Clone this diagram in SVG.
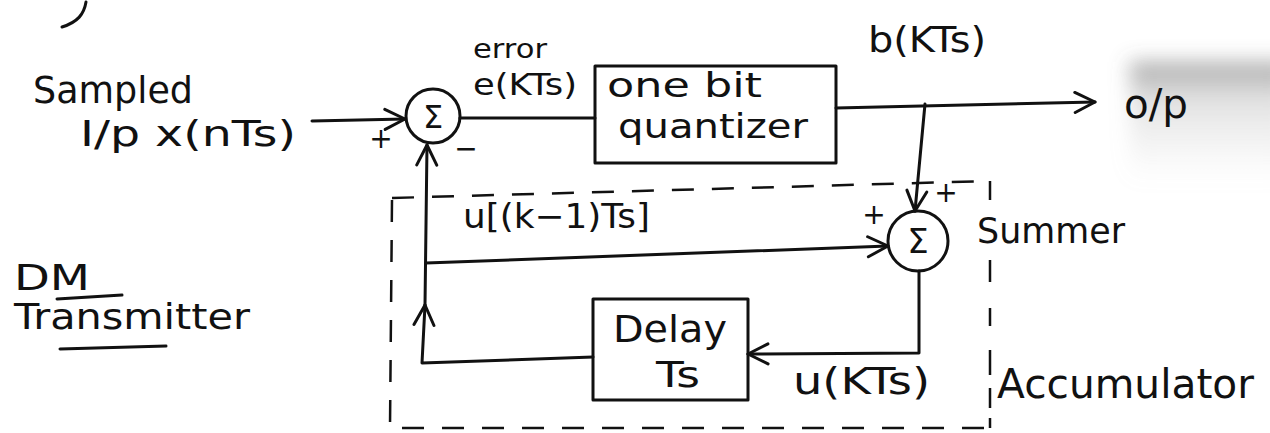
<svg xmlns="http://www.w3.org/2000/svg" width="1270" height="433" viewBox="0 0 1270 433">
  <style>
    .ink { fill: none; stroke: #111; stroke-width: 3; stroke-linecap: round; stroke-linejoin: round; }
    .dash { fill: none; stroke: #111; stroke-width: 2.5; stroke-dasharray: 22 18; }
    .seg { fill: none; stroke: #111; stroke-width: 2.5; }
    .t { font-family: "DejaVu Sans", "Liberation Sans", sans-serif; fill: #111; }
    .sig { font-family: "DejaVu Sans", "Liberation Sans", sans-serif; fill: #111; font-size: 28px; text-anchor: middle; }
  </style>
  <defs>
    <marker id="arr" viewBox="-22 -12 24 24" markerWidth="24" markerHeight="24" refX="0" refY="0" orient="auto" markerUnits="userSpaceOnUse">
      <path d="M-20,-10 L0,0 L-20,10" fill="none" stroke="#111" stroke-width="3" stroke-linecap="round" stroke-linejoin="round"/>
    </marker>
    <linearGradient id="smudge" x1="0" y1="0" x2="0" y2="1">
      <stop offset="0" stop-color="#555" stop-opacity="0.55"/>
      <stop offset="0.3" stop-color="#999" stop-opacity="0.3"/>
      <stop offset="1" stop-color="#bbb" stop-opacity="0"/>
    </linearGradient>
    <filter id="soft" x="-20%" y="-20%" width="140%" height="140%">
      <feGaussianBlur stdDeviation="10"/>
    </filter>
  </defs>
  <rect width="1270" height="433" fill="#fff"/>
  <!-- scan smudge -->
  <rect x="1130" y="62" width="160" height="120" fill="url(#smudge)" filter="url(#soft)"/>
  <!-- cut-off ink fragment at top-left -->
  <path class="ink" d="M86,2 C84,14 78,22 62,27"/>

  <!-- texts -->
  <g id="input-label">
    <text class="t" x="33" y="103" font-size="38" textLength="160" lengthAdjust="spacingAndGlyphs">Sampled</text>
    <text class="t" x="80" y="146" font-size="36" textLength="216" lengthAdjust="spacingAndGlyphs">I/p  x(nTs)</text>
  </g>
  <g id="title">
    <text class="t" x="14" y="290" font-size="36" textLength="76" lengthAdjust="spacingAndGlyphs">DM</text>
    <path class="ink" d="M57,299 L122,295" stroke-width="2.5"/>
    <text class="t" x="14" y="329" font-size="36" textLength="236" lengthAdjust="spacingAndGlyphs">Transmitter</text>
    <path class="ink" d="M60,349 L166,346" stroke-width="2.5"/>
  </g>

  <!-- accumulator boundary -->
  <g id="accumulator">
    <path class="dash" d="M392,198 L990,181"/>
    <path class="dash" d="M392,200 L390,428 L990,428"/>
    <path class="seg" d="M990,181 L990,200 M990,260 L990,282 M990,308 L990,326 M990,350 L990,375 M990,388 L990,408 M990,418 L990,428"/>
    <text class="t" x="997" y="398" font-size="40" textLength="257" lengthAdjust="spacingAndGlyphs">Accumulator</text>
  </g>

  <!-- connectors -->
  <g id="connectors">
    <path class="ink" d="M312,121 L405,119" marker-end="url(#arr)"/>
    <path class="ink" d="M460,118 L595,118"/>
    <path class="ink" d="M836,108 L1095,102" marker-end="url(#arr)"/>
    <path class="ink" d="M925,104 L915,211" marker-end="url(#arr)"/>
    <path class="ink" d="M919,271 L919,353 L748,354" marker-end="url(#arr)"/>
    <path class="ink" d="M593,357 L422,363 L425,305" marker-end="url(#arr)"/>
    <path class="ink" d="M425,305 L427,145" marker-end="url(#arr)"/>
    <path class="ink" d="M426,263 L888,246" marker-end="url(#arr)"/>
  </g>

  <!-- error summer -->
  <g id="sum1">
    <circle class="ink" cx="433" cy="116" r="27"/>
    <text class="t" x="433" y="128" font-size="32" text-anchor="middle">Σ</text>
    <text class="sig" x="381" y="148">+</text>
    <text class="sig" x="466" y="158">−</text>
    <text class="t" x="473" y="58" font-size="26" textLength="74" lengthAdjust="spacingAndGlyphs">error</text>
    <text class="t" x="473" y="95" font-size="30" textLength="104" lengthAdjust="spacingAndGlyphs">e(KTs)</text>
  </g>

  <!-- quantizer -->
  <g id="quantizer">
    <rect class="ink" x="595" y="66" width="241" height="97"/>
    <text class="t" x="607" y="97" font-size="34" textLength="155" lengthAdjust="spacingAndGlyphs">one bit</text>
    <text class="t" x="618" y="138" font-size="34" textLength="190" lengthAdjust="spacingAndGlyphs">quantizer</text>
  </g>

  <!-- output -->
  <g id="output">
    <text class="t" x="868" y="52" font-size="36" textLength="118" lengthAdjust="spacingAndGlyphs">b(KTs)</text>
    <text class="t" x="1124" y="118" font-size="40" textLength="64" lengthAdjust="spacingAndGlyphs">o/p</text>
  </g>

  <!-- accumulator summer -->
  <g id="sum2">
    <circle class="ink" cx="918" cy="241" r="30"/>
    <text class="t" x="918" y="253" font-size="34" text-anchor="middle">Σ</text>
    <text class="sig" x="874" y="224">+</text>
    <text class="sig" x="946" y="202">+</text>
    <text class="t" x="977" y="243" font-size="35" textLength="148" lengthAdjust="spacingAndGlyphs">Summer</text>
    <text class="t" x="463" y="228" font-size="34" textLength="187" lengthAdjust="spacingAndGlyphs">u[(k−1)Ts]</text>
  </g>

  <!-- delay -->
  <g id="delay">
    <rect class="ink" x="593" y="299" width="155" height="101"/>
    <text class="t" x="613" y="342" font-size="38" textLength="114" lengthAdjust="spacingAndGlyphs">Delay</text>
    <text class="t" x="656" y="387" font-size="36" textLength="44" lengthAdjust="spacingAndGlyphs">Ts</text>
    <text class="t" x="793" y="394" font-size="38" textLength="137" lengthAdjust="spacingAndGlyphs">u(KTs)</text>
  </g>
</svg>
